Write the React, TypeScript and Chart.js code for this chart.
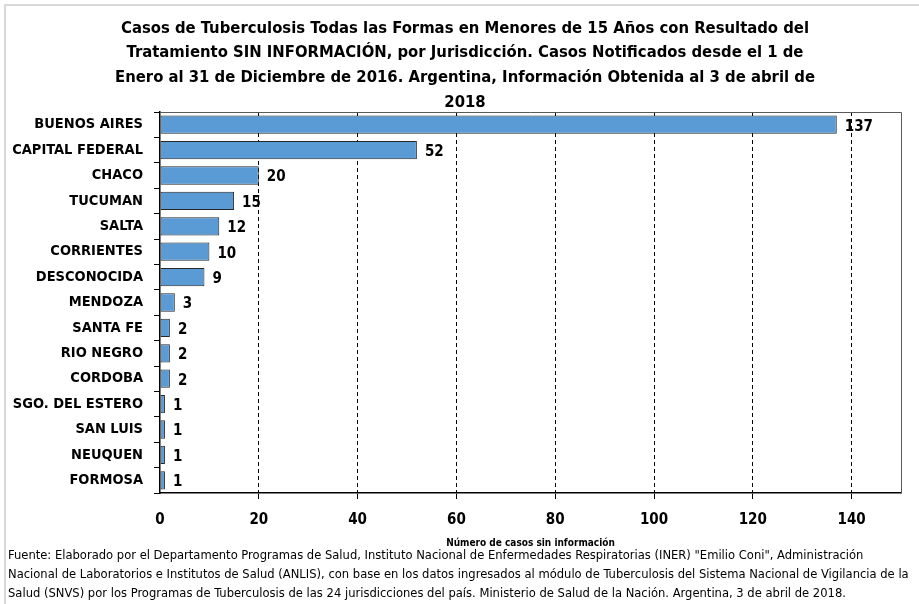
import React, { useEffect, useRef } from "react";
import { Chart, registerables } from "chart.js";

Chart.register(...registerables);

const categories = [
  "BUENOS AIRES",
  "CAPITAL FEDERAL",
  "CHACO",
  "TUCUMAN",
  "SALTA",
  "CORRIENTES",
  "DESCONOCIDA",
  "MENDOZA",
  "SANTA FE",
  "RIO NEGRO",
  "CORDOBA",
  "SGO. DEL ESTERO",
  "SAN LUIS",
  "NEUQUEN",
  "FORMOSA",
];
const casos = [137, 52, 20, 15, 12, 10, 9, 3, 2, 2, 2, 1, 1, 1, 1];

const titleLines = [
  "Casos de Tuberculosis Todas las Formas en Menores de 15 Años con Resultado del",
  "Tratamiento SIN INFORMACIÓN, por Jurisdicción. Casos Notificados desde el 1 de",
  "Enero al 31 de Diciembre de 2016. Argentina, Información Obtenida al 3 de abril de",
  "2018",
];
const xAxisTitle = "Número de casos sin información";
const footerLines = [
  "Fuente: Elaborado por el Departamento Programas de Salud, Instituto Nacional de Enfermedades Respiratorias (INER) \"Emilio Coni\", Administración",
  "Nacional de Laboratorios e Institutos de Salud (ANLIS), con base en los datos ingresados al módulo de Tuberculosis del Sistema Nacional de Vigilancia de la",
  "Salud (SNVS) por los Programas de Tuberculosis de las 24 jurisdicciones del país. Ministerio de Salud de la Nación. Argentina, 3 de abril de 2018.",
];

const FONT = "'Liberation Sans Narrow', 'DejaVu Sans Condensed', 'Open Sans', sans-serif";

const extrasPlugin = {
  id: "extras",
  afterDatasetsDraw(chart: any) {
    const { ctx, chartArea } = chart;
    ctx.save();
    ctx.strokeStyle = "#595959";
    ctx.lineWidth = 1;
    ctx.beginPath();
    ctx.moveTo(chartArea.left, Math.round(chartArea.top) + 0.5);
    ctx.lineTo(Math.round(chartArea.right) + 0.5, Math.round(chartArea.top) + 0.5);
    ctx.lineTo(Math.round(chartArea.right) + 0.5, chartArea.bottom);
    ctx.stroke();
    const meta = chart.getDatasetMeta(0);
    ctx.fillStyle = "#000";
    ctx.font = `bold 15px ${FONT}`;
    ctx.textAlign = "left";
    ctx.textBaseline = "middle";
    meta.data.forEach((bar: any, i: number) => {
      ctx.fillText(String(casos[i]), bar.x + 8, bar.y + 2);
    });
    ctx.restore();
  },
  afterDraw(chart: any) {
    const { ctx } = chart;
    ctx.save();
    ctx.fillStyle = "#000";
    // title
    ctx.font = `bold 16.5px ${FONT}`;
    ctx.textAlign = "center";
    ctx.textBaseline = "middle";
    titleLines.forEach((l, i) => ctx.fillText(l, 465, 28.3 + i * 24.67));
    // footer
    ctx.font = `12.85px ${FONT}`;
    ctx.textAlign = "left";
    footerLines.forEach((l, i) => ctx.fillText(l, 8, 556 + i * 19));
    ctx.strokeStyle = "#d9d9d9";
    ctx.lineWidth = 2;
    ctx.beginPath();
    ctx.moveTo(5, 604);
    ctx.lineTo(5, 5);
    ctx.lineTo(919, 5);
    ctx.stroke();
    ctx.restore();
  },
};

export default function App() {
  const ref = useRef<HTMLCanvasElement>(null);
  useEffect(() => {
    if (!ref.current) return;
    const chart = new Chart(ref.current, {
      type: "bar",
      data: {
        labels: categories,
        datasets: [
          {
            data: casos,
            backgroundColor: "#5B9BD5",
            borderColor: "#262626",
            borderWidth: 1,
            borderSkipped: false,
            barPercentage: 0.9,
            categoryPercentage: 0.8,
          },
        ],
      },
      options: {
        indexAxis: "y",
        animation: false,
        responsive: false,
        maintainAspectRatio: false,
        layout: { padding: { left: 0, right: 18, top: 112, bottom: 55 } },
        plugins: {
          legend: { display: false },
          tooltip: { enabled: false },
          title: { display: false },
        },
        scales: {
          x: {
            min: 0,
            max: 150,
            ticks: {
              stepSize: 20,
              color: "#000",
              font: { family: FONT, size: 15, weight: "bold" },
              padding: 12,
              callback: (v: any) => (Number(v) % 20 === 0 ? String(v) : ""),
            },
            grid: {
              color: (c: any) =>
                c.tick && (c.tick.value === 0 || c.tick.value === 150) ? "rgba(0,0,0,0)" : "#000",
              lineWidth: 1,
              tickLength: 6,
            },
            border: { display: true, color: "#000", width: 1.5, dash: [4, 3] },
            title: {
              display: true,
              text: xAxisTitle,
              color: "#000",
              font: { family: FONT, size: 10, weight: "bold" },
              padding: { top: 0, bottom: 0 },
            },
            afterFit: (s: any) => {
              s.height = 56;
            },
          },
          y: {
            ticks: {
              color: "#000",
              font: { family: FONT, size: 14.5, weight: "bold" },
              padding: 11,
            },
            grid: {
              drawOnChartArea: false,
              offset: true,
              tickLength: 6,
              color: "#000",
            },
            border: { display: true, color: "#000", width: 1.5 },
            afterFit: (s: any) => {
              s.width = 160;
            },
          },
        },
      },
      plugins: [extrasPlugin],
    });
    return () => chart.destroy();
  }, []);
  return (
    <div style={{ position: "fixed", left: 0, top: 0, width: 919, height: 604, background: "#fff" }}>
      <canvas ref={ref} width={919} height={604} style={{ width: 919, height: 604 }} />
    </div>
  );
}
